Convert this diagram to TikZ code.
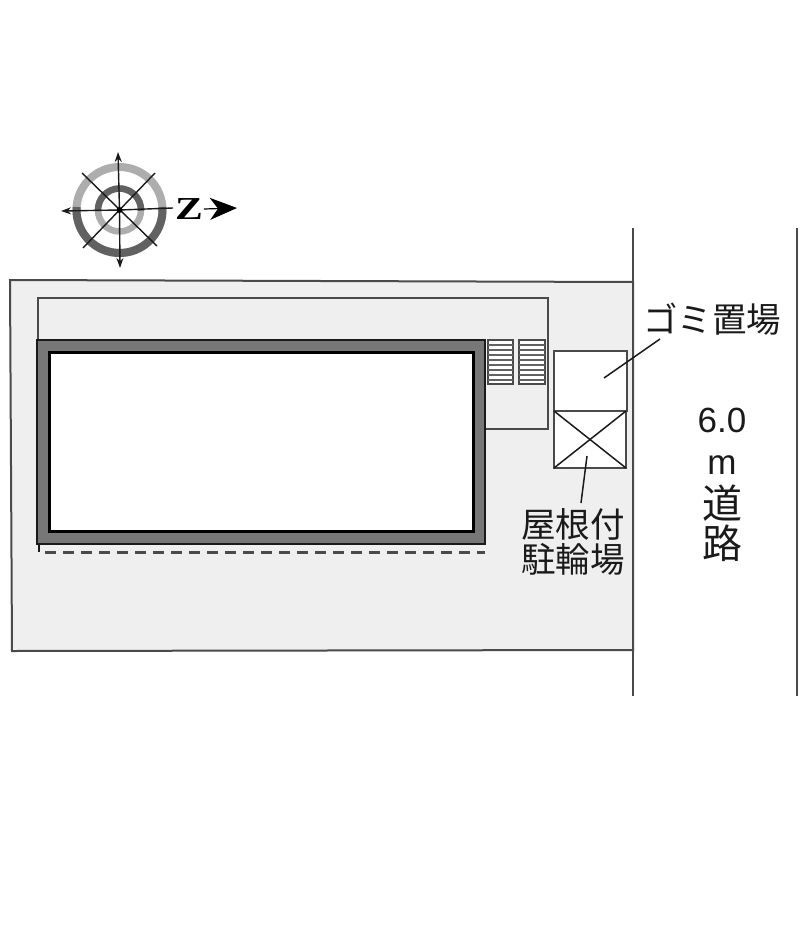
\documentclass[tikz,border=0pt]{standalone}
\usepackage{fontspec}
\setmainfont{Liberation Sans}
\newfontfamily\cjk{Noto Sans CJK JP}
\newfontfamily\zfont{Liberation Serif}
\usetikzlibrary{arrows.meta}
\definecolor{lot}{HTML}{EFEFEF}
\definecolor{wallg}{HTML}{777777}
\definecolor{ink}{HTML}{1A1A1A}
\definecolor{lineg}{HTML}{4A4A4A}
\tikzset{
  x=1pt,y=-1pt,
  plan/.style={draw=lineg,line width=2pt},
  roadline/.style={draw=lineg,line width=2.2pt},
  leader/.style={draw=ink,line width=1.5pt},
  label/.style={inner sep=0pt,text=ink,align=center},
  compass/.style={draw=ink,line width=1.4pt},
  tick/.style={draw=lineg,line width=1.5pt},
}
\begin{document}
\begin{tikzpicture}
\useasboundingbox (0,0) rectangle (800,942);
\fill[white] (0,0) rectangle (800,942);
% lot
\path[fill=lot,plan] (10,280) -- (633,282) -- (633,650) -- (12,651) -- cycle;
% road edges
\draw[roadline] (633,228) -- (633,696);
\draw[roadline] (797,228) -- (797,696);
% balcony / corridor
\path[plan] (38,340) -- (38,298) -- (548,298) -- (548,429) -- (485,429);
% building
\path[fill=wallg,draw=ink,line width=2pt] (37,340) rectangle (485,544);
\path[fill=white,draw=black,line width=3pt] (49,352) rectangle (473,531);
% dashed eave
\draw[lineg,line width=2.4pt,dash pattern=on 11pt off 7pt] (45,552.5) -- (485,552.5);
\draw[ink,line width=1.6pt] (39,544) -- (39,552);
% stairs
\foreach \xa/\xb in {488/513,519/545}{
  \path[fill=white,tick] (\xa,340) rectangle (\xb,384);
  \foreach \yy in {345,350,...,380}{
    \draw[draw=black!62,line width=2.6pt] (\xa,\yy) -- (\xb,\yy);
  }
}
% garbage area
\path[fill=white,plan] (554,351) rectangle (627,411);
% bicycle shelter
\path[fill=white,plan] (554,411) rectangle (626,468);
\draw[leader] (554,411) -- (626,468);
\draw[leader] (626,411) -- (554,468);
% leaders
\coordinate (gomiA) at (660,339);
\coordinate (gomiB) at (604,378);
\coordinate (cycA) at (587,456);
\coordinate (cycB) at (581,503);
\draw[leader] (gomiA) -- (gomiB);
\draw[leader] (cycA) -- (cycB);
% labels
\node[label,font=\cjk\fontsize{34.5}{34.5}\selectfont] (gomi) at (712,319) {ゴミ置場};
\node[label,font=\cjk\fontsize{34.5}{35}\selectfont] (shelter) at (573,542) {屋根付\\駐輪場};
\node[label,font=\fontsize{35}{35}\selectfont] (width) at (722,420) {6.0};
\node[label,font=\fontsize{35}{35}\selectfont] (unit) at (722,465) {m};
\node[label,font=\cjk\fontsize{40}{40}\selectfont] (road1) at (722,503) {道};
\node[label,font=\cjk\fontsize{40}{40}\selectfont] (road2) at (722,543) {路};
% compass
\coordinate (c) at (119.5,210);
\draw[line width=8pt,draw=black!32] (c) circle (43);
\draw[line width=8pt,draw=black!62] (c) ++(-4:43) arc (-4:184:43);
\draw[line width=6.5pt,draw=black!32] (c) circle (21.5);
\draw[line width=6.5pt,draw=black!62] (c) ++(178:21.5) arc (178:362:21.5);
\draw[compass,-{Stealth[length=10pt,width=7pt]}] (c) -- (118,152);
\draw[compass,-{Stealth[length=10pt,width=7pt]}] (c) -- (120,268);
\draw[compass,-{Stealth[length=10pt,width=7pt]}] (c) -- (61,211);
\draw[compass] (c) -- (173,208);
\draw[compass] (82,173) -- (157,246);
\draw[compass] (155,173) -- (83,248);
\fill[black] (c) circle (3);
\node[inner sep=0pt,text=black,xscale=1.3,font=\zfont\bfseries\fontsize{32}{32}\selectfont] (north) at (189,209) {Z};
\coordinate (nA) at (204,209);
\coordinate (nB) at (237,208);
\draw[draw=ink,line width=1.2pt,-{Stealth[length=27pt,width=22pt,inset=8pt]},black] (nA) -- (nB);
\end{tikzpicture}
\end{document}
